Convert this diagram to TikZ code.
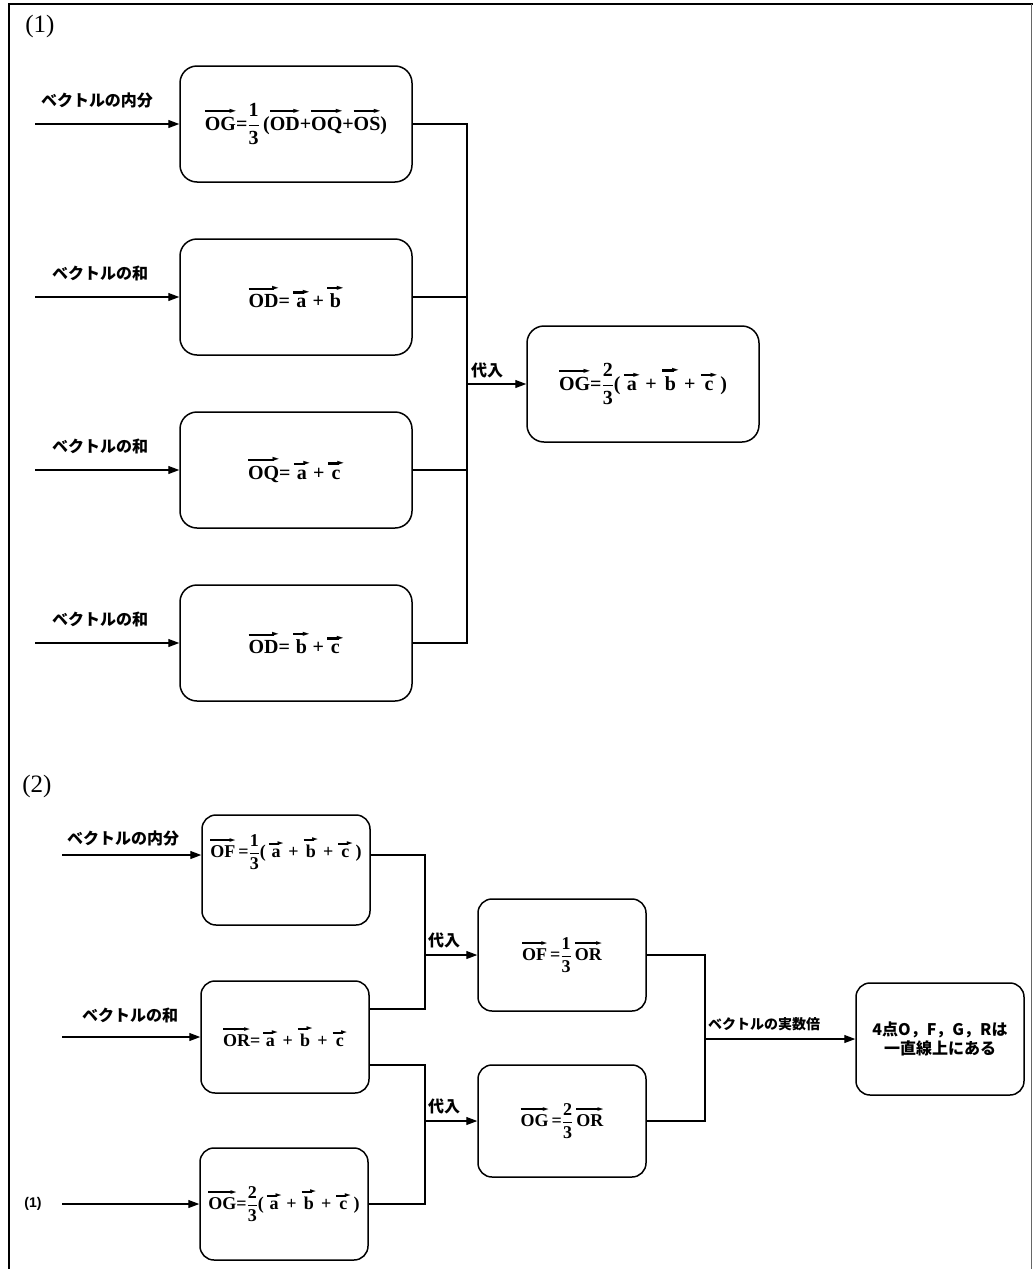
\documentclass[tikz,border=0pt]{standalone}
\usepackage{fontspec}
\setmainfont{Liberation Serif}
\newfontfamily\jp{Noto Sans CJK JP}
\newfontfamily\sansb{Liberation Sans}
\newfontfamily\symf{DejaVu Sans}
\usetikzlibrary{arrows.meta}
% vector: a bar with a solid head set over the letters
\makeatletter
\newcommand\vo[1]{%
  \setbox0\hbox{#1}%
  \dimen4=.42em
  \edef\vo@hs{\strip@pt\dimen4}%
  \setbox2\hbox{\symf\fontsize{\vo@hs}{\vo@hs}\selectfont ►}%
  \dimen0=\dimexpr(\ht2-\dp2)/2\relax
  \dimen2=\wd0 \ifdim\dimen2<.8em \dimen2=.8em\fi
  \dimen6=.055em
  \vbox{\offinterlineskip
    \hbox to\dimen2{\leaders\hrule height\dimexpr\dimen0+\dimen6\relax
      depth\dimexpr\dimen6-\dimen0\relax\hfill\kern-.08em\box2}%
    \kern.2em
    \hbox to\dimen2{\hss\box0\hss}}}
\makeatother
% upright fraction
\newcommand\fr[2]{\ensuremath{\displaystyle\frac{\hbox{#1}}{\hbox{#2}}}}
\newcommand\pl{\;+\;}
\begin{document}
\begin{tikzpicture}[x=1pt,y=-1pt,
  box/.style={draw, line width=1.5pt, inner sep=0pt},
  big/.style={box, rounded corners=17pt, minimum width=232pt, minimum height=116pt,
    font=\fontsize{20}{22}\selectfont\bfseries},
  small/.style={box, rounded corners=14pt, minimum width=168pt, minimum height=112pt,
    font=\fontsize{18}{20}\selectfont\bfseries},
  formula/.style={inner sep=0pt, font=\fontsize{18}{20}\selectfont\bfseries},
  lab/.style={inner sep=0pt, font=\jp\bfseries\fontsize{16}{18}\selectfont},
  labs/.style={inner sep=0pt, font=\jp\bfseries\fontsize{14}{16}\selectfont},
  part/.style={inner sep=0pt, font=\fontsize{25}{27}\selectfont},
  wire/.style={line width=1.2pt},
  feed/.style={wire, -{Triangle[length=11pt,width=8pt]}},
]
\useasboundingbox (0,0) rectangle (1033,1269);

% outer frame
\draw[line width=1.8pt] (9,1269) -- (9,4) -- (1033,4);
\draw[line width=1pt, black!60] (1031,4) -- (1031,1269);

%% ---------- part (1) ----------
\node[part] (p1) at (40,26) {(1)};

\node[big] (b1) at (296,124) {\vo{OG}=\fr{1}{3}\,(\vo{OD}+\vo{OQ}+\vo{OS})};
\node[big] (b2) at (296,297) {\vo{OD}=\,\vo{a}\,+\,\vo{b}};
\node[big] (b3) at (296,470) {\vo{OQ}=\,\vo{a}\,+\,\vo{c}};
\node[big] (b4) at (296,643) {\vo{OD}=\,\vo{b}\,+\,\vo{c}};
\node[big] (b5) at (643,384) {\vo{OG}=\fr{2}{3}(\,\vo{a}\pl\vo{b}\pl\vo{c}\,)};

\coordinate (i1) at (35,124);
\coordinate (i2) at (35,297);
\coordinate (i3) at (35,470);
\coordinate (i4) at (35,643);
\draw[feed] (i1) -- (b1.west);
\draw[feed] (i2) -- (b2.west);
\draw[feed] (i3) -- (b3.west);
\draw[feed] (i4) -- (b4.west);
\node[lab] (l1) at (97,100) {ベクトルの内分};
\node[lab] (l2) at (100,273) {ベクトルの和};
\node[lab] (l3) at (100,446) {ベクトルの和};
\node[lab] (l4) at (100,619) {ベクトルの和};

\coordinate (bus1) at (467,0);
\draw[wire] (b1.east) -| (bus1 |- b4.east) -- (b4.east);
\draw[wire] (b2.east) -- (bus1 |- b2.east);
\draw[wire] (b3.east) -- (bus1 |- b3.east);
\draw[feed] (bus1 |- b5.west) -- (b5.west);
\node[lab, anchor=south west] (s1) at ([xshift=4pt,yshift=6pt]bus1 |- b5.west) {代入};

%% ---------- part (2) ----------
\node[part] (p2) at (37,786) {(2)};

\node[small, minimum height=110pt] (A) at (286,870) {};
\node[formula] (At) at (286,852) {\vo{OF}\,=\fr{1}{3}(\,\vo{a}\pl\vo{b}\pl\vo{c}\,)};
\node[small] (B) at (285,1037) {\vo{OR}=\,\vo{a}\pl\vo{b}\pl\vo{c}};
\node[small] (D) at (284,1204) {\vo{OG}=\fr{2}{3}(\,\vo{a}\pl\vo{b}\pl\vo{c}\,)};
\node[small] (C) at (562,955) {\vo{OF}\,=\fr{1}{3}\,\vo{OR}};
\node[small] (D2) at (562,1121) {\vo{OG}\,=\fr{2}{3}\,\vo{OR}};
\node[small, align=center, font=\jp\bfseries\fontsize{16}{19}\selectfont] (E) at (940,1039)
  {4点O，F，G，Rは\\一直線上にある};

\coordinate (iA) at (62,855);
\coordinate (iB) at (62,1037);
\coordinate (iD) at (62,1204);
\draw[feed] (iA) -- (iA -| A.west);
\draw[feed] (iB) -- (B.west);
\draw[feed] (iD) -- (D.west);
\node[lab] (lA) at (123,838) {ベクトルの内分};
\node[lab] (lB) at (130,1015) {ベクトルの和};
\node[inner sep=0pt, font=\sansb\bfseries\fontsize{14}{16}\selectfont] (lD) at (33,1204) {(1)};

\coordinate (Bu) at ([yshift=28pt]B.east);
\coordinate (Bd) at ([yshift=-28pt]B.east);
\coordinate (bus2) at (425,0);
\coordinate (bus3) at (705,0);
\draw[wire] (iA -| A.east) -| (bus2 |- Bu) -- (Bu);
\draw[wire] (Bd) -| (bus2 |- D.east) -- (D.east);
\draw[feed] (bus2 |- C.west) -- (C.west);
\draw[feed] (bus2 |- D2.west) -- (D2.west);
\node[lab, anchor=south west] (s2) at ([xshift=3pt,yshift=7pt]bus2 |- C.west) {代入};
\node[lab, anchor=south west] (s3) at ([xshift=3pt,yshift=7pt]bus2 |- D2.west) {代入};

\draw[wire] (C.east) -| (bus3 |- D2.east) -- (D2.east);
\draw[feed] (bus3 |- E.west) -- (E.west);
\node[labs, anchor=south west] (s4) at ([xshift=3pt,yshift=8pt]bus3 |- E.west) {ベクトルの実数倍};
\end{tikzpicture}
\end{document}
